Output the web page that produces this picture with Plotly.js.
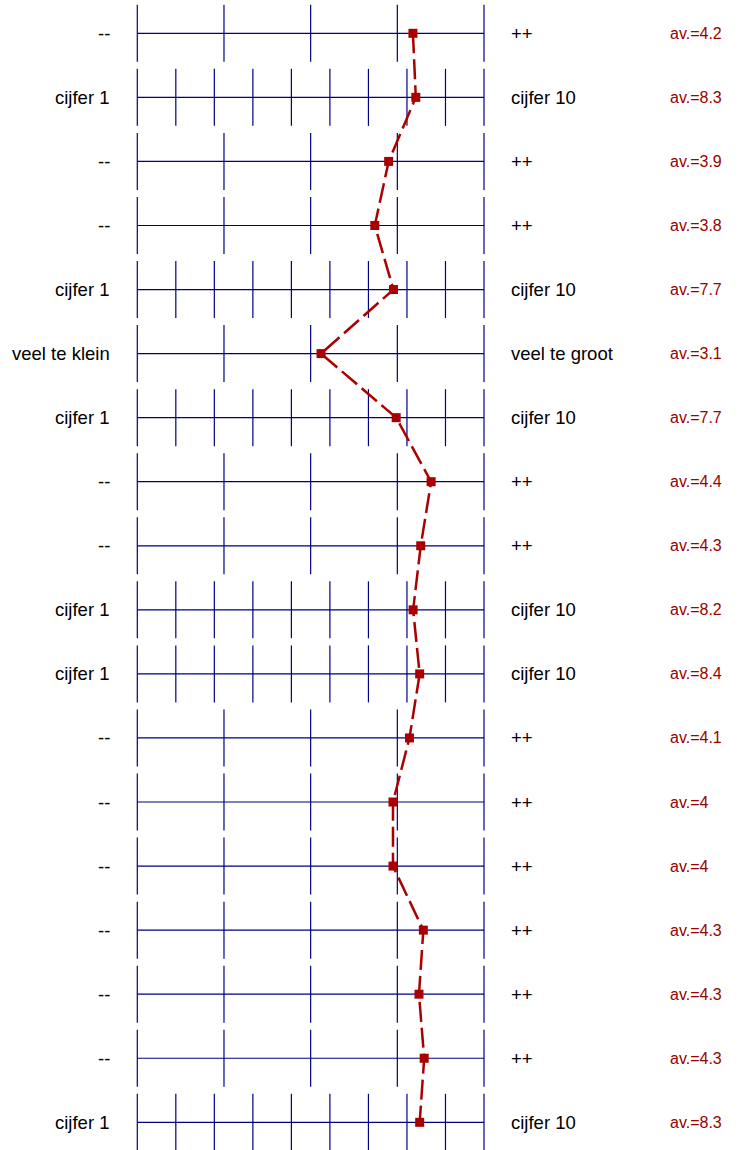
<!DOCTYPE html>
<html>
<head>
<meta charset="utf-8">
<script src="https://cdn.plot.ly/plotly-3.0.1.min.js"></script>
<style>html,body{margin:0;padding:0;background:#fff;}#chart{width:739px;height:1150px;}</style>
</head>
<body>
<div id="chart"></div>
<script>
// Number of scale points per row (5-point scale or 10-point "cijfer" scale)
var scalePoints = [5, 10, 5, 5, 10, 5, 10, 5, 5, 10, 10, 5, 5, 5, 5, 5, 5, 10];
var leftLabels  = ["--", "cijfer 1", "--", "--", "cijfer 1", "veel te klein", "cijfer 1", "--", "--", "cijfer 1", "cijfer 1", "--", "--", "--", "--", "--", "--", "cijfer 1"];
var rightLabels = ["++", "cijfer 10", "++", "++", "cijfer 10", "veel te groot", "cijfer 10", "++", "++", "cijfer 10", "cijfer 10", "++", "++", "++", "++", "++", "++", "cijfer 10"];
// Averages as printed
var averages    = ["4.2", "8.3", "3.9", "3.8", "7.7", "3.1", "7.7", "4.4", "4.3", "8.2", "8.4", "4.1", "4", "4", "4.3", "4.3", "4.3", "8.3"];
var means       = [4.18, 8.23, 3.90, 3.74, 7.65, 3.12, 7.72, 4.39, 4.27, 8.16, 8.33, 4.14, 3.95, 3.95, 4.30, 4.25, 4.31, 8.33];

var nRows = scalePoints.length;
var rows = [];
for (var i = 0; i < nRows; i++) rows.push(i);

function frac(v, n) { return (v - 1) / (n - 1); }

// Scale lines + ticks
var gx = [], gy = [];
var tickHalf = 0.445;
for (var i = 0; i < nRows; i++) {
  gx.push(0, 1, null); gy.push(i, i, null);
  var n = scalePoints[i];
  for (var k = 1; k <= n; k++) {
    var f = frac(k, n);
    gx.push(f, f, null); gy.push(i - tickHalf, i + tickHalf, null);
  }
}

var grid = {
  x: gx, y: gy, mode: 'lines', type: 'scatter',
  line: {color: '#000080', width: 1.2},
  hoverinfo: 'skip', showlegend: false
};

var px = [];
for (var i = 0; i < nRows; i++) px.push(frac(means[i], scalePoints[i]));

var profile = {
  x: px, y: rows, mode: 'lines+markers', type: 'scatter',
  line: {color: '#aa0000', width: 2.5, dash: '20px,6px'},
  marker: {symbol: 'square', size: 9, color: '#aa0000'},
  showlegend: false
};

var ann = [];
var font = 'Liberation Sans, Arial, sans-serif';
for (var i = 0; i < nRows; i++) {
  ann.push({x: -0.074, y: i, xref: 'x', yref: 'y', text: leftLabels[i], showarrow: false,
    xanchor: 'right', yanchor: 'middle', font: {family: font, size: 18.5, color: '#000'}});
  ann.push({x: 1.071, y: i, xref: 'x', yref: 'y', text: rightLabels[i], showarrow: false,
    xanchor: 'left', yanchor: 'middle', font: {family: font, size: 18.5, color: '#000'}});
  ann.push({x: 1.531, y: i, xref: 'x', yref: 'y', text: 'av.=' + averages[i], showarrow: false,
    xanchor: 'left', yanchor: 'middle', font: {family: font, size: 16, color: '#990000'}});
}

var W = 739, H = 1150;
var x0 = 137.3, span = 346.7, y0 = 33.3, step = 64.06;
var layout = {
  width: W, height: H,
  margin: {l: 0, r: 0, t: 0, b: 0, pad: 0},
  paper_bgcolor: '#fff', plot_bgcolor: '#fff',
  xaxis: {range: [-x0 / span, (W - x0) / span], visible: false, fixedrange: true},
  yaxis: {range: [(H - y0) / step, -y0 / step], visible: false, fixedrange: true},
  annotations: ann,
  showlegend: false
};

Plotly.newPlot('chart', [grid, profile], layout, {staticPlot: true, displayModeBar: false});
</script>
</body>
</html>
